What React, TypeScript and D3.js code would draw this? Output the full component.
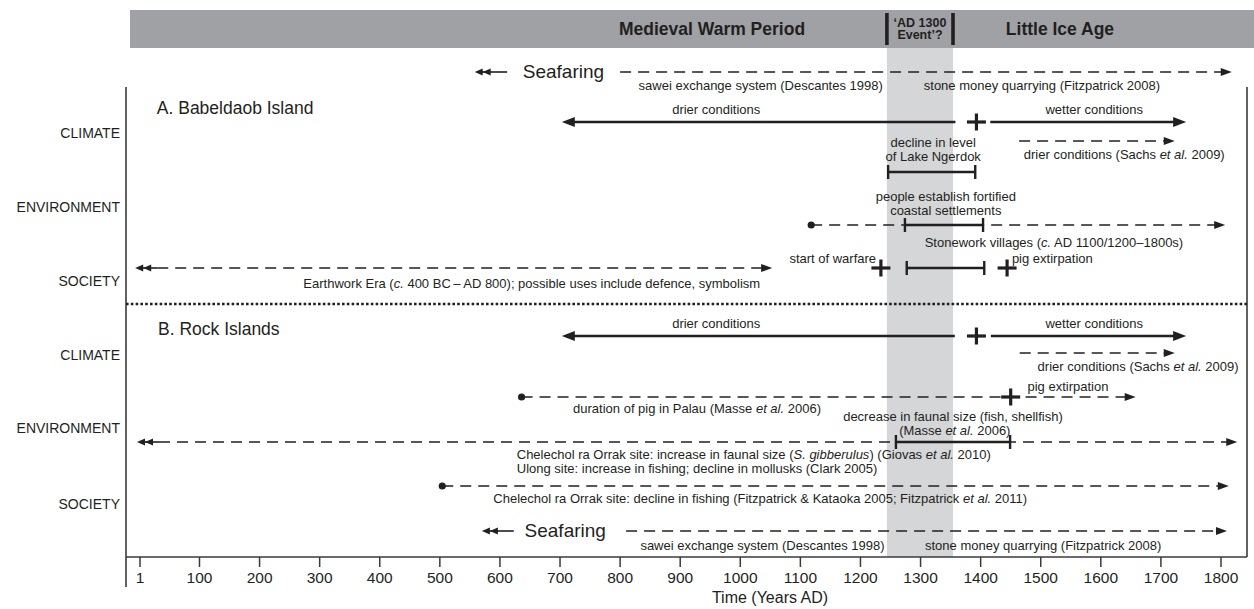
import React from "react";
import * as d3 from "d3";

// ---- chart values (years AD) ----
const tickYears = [1, 100, 200, 300, 400, 500, 600, 700, 800, 900, 1000, 1100, 1200, 1300, 1400, 1500, 1600, 1700, 1800];
const eventSpan = [1244, 1354]; // 'AD 1300 Event'?
const eventLines = ["\u2018AD 1300", "Event\u2019?"];

const eraLabels = [
  { text: "Medieval Warm Period", at: 953 },
  { text: "Little Ice Age", at: 1532 },
];

const rowLabels = [
  { text: "CLIMATE", lane: "aClimateRow" },
  { text: "ENVIRONMENT", lane: "aEnvRow" },
  { text: "SOCIETY", lane: "aSocRow" },
  { text: "CLIMATE", lane: "bClimateRow" },
  { text: "ENVIRONMENT", lane: "bEnvRow" },
  { text: "SOCIETY", lane: "bSocRow" },
];

const sectionTitles = [
  { text: "A. Babeldaob Island", at: 29, lane: "aTitle" },
  { text: "B. Rock Islands", at: 31, lane: "bTitle" },
];

const seafaring = [
  { at: 638, lane: "seaTop", leadFrom: 612, leadTo: 558, from: 800, to: 1818 },
  { at: 641, lane: "seaBot", leadFrom: 623, leadTo: 570, from: 810, to: 1810 },
];

const solidArrows = [
  { from: 1358, to: 703, lane: "aClimate" },
  { from: 1416, to: 1742, lane: "aClimate" },
  { from: 1357, to: 703, lane: "bClimate" },
  { from: 1417, to: 1742, lane: "bClimate" },
];

// start: "none" | "dot" | "double"
const dashedArrows = [
  { from: 1464, to: 1723, lane: "aSachs", start: "none" },
  { from: 1118, to: 1807, lane: "aEnv", start: "dot" },
  { from: -7, to: 1053, lane: "aSoc", start: "double" },
  { from: 1465, to: 1723, lane: "bSachs", start: "none" },
  { from: 636, to: 1658, lane: "bPig", start: "dot" },
  { from: -4, to: 1827, lane: "bEnv", start: "double" },
  { from: 504, to: 1813, lane: "bSoc", start: "dot" },
];

const spans = [
  { from: 1246, to: 1391, lane: "aLake" },
  { from: 1274, to: 1404, lane: "aEnv" },
  { from: 1277, to: 1406, lane: "aSoc" },
  { from: 1259, to: 1449, lane: "bEnv" },
];

const crosses = [
  { at: 1393, lane: "aClimate" },
  { at: 1234, lane: "aSoc" },
  { at: 1444, lane: "aSoc" },
  { at: 1393, lane: "bClimate" },
  { at: 1450, lane: "bPig" },
];

// *text* = italic
const notes = [
  { text: "sawei exchange system (Descantes 1998)", at: 1034, lane: "seaTopNote", anchor: "middle" },
  { text: "stone money quarrying (Fitzpatrick 2008)", at: 1502, lane: "seaTopNote", anchor: "middle" },
  { text: "drier conditions", at: 960, lane: "aClimateNote", anchor: "middle" },
  { text: "wetter conditions", at: 1589, lane: "aClimateNote", anchor: "middle" },
  { text: "drier conditions (Sachs *et al.* 2009)", at: 1639, lane: "aSachsNote", anchor: "middle" },
  { text: "decline in level", at: 1321, lane: "aLakeNote1", anchor: "middle" },
  { text: "of Lake Ngerdok", at: 1321, lane: "aLakeNote2", anchor: "middle" },
  { text: "people establish fortified", at: 1342, lane: "aFortNote1", anchor: "middle" },
  { text: "coastal settlements", at: 1342, lane: "aFortNote2", anchor: "middle" },
  { text: "Stonework villages (*c.* AD 1100/1200\u20131800s)", at: 1522, lane: "aStoneNote", anchor: "middle" },
  { text: "start of warfare", at: 1226, lane: "aWarNote", anchor: "end" },
  { text: "pig extirpation", at: 1452, lane: "aWarNote", anchor: "start" },
  { text: "Earthwork Era (*c.* 400 BC\u2009\u2013\u2009AD 800); possible uses include defence, symbolism", at: 653, lane: "aEarthNote", anchor: "middle" },
  { text: "drier conditions", at: 960, lane: "bClimateNote", anchor: "middle" },
  { text: "wetter conditions", at: 1589, lane: "bClimateNote", anchor: "middle" },
  { text: "drier conditions (Sachs *et al.* 2009)", at: 1662, lane: "bSachsNote", anchor: "middle" },
  { text: "pig extirpation", at: 1478, lane: "bPigNote", anchor: "start" },
  { text: "duration of pig in Palau (Masse *et al.* 2006)", at: 928, lane: "bPigDurNote", anchor: "middle" },
  { text: "decrease in faunal size (fish, shellfish)", at: 1354, lane: "bFaunaNote1", anchor: "middle" },
  { text: "(Masse *et al.* 2006)", at: 1357, lane: "bFaunaNote2", anchor: "middle" },
  { text: "Chelechol ra Orrak site: increase in faunal size (*S. gibberulus*) (Giovas *et al.* 2010)", at: 628, lane: "bChelNote1", anchor: "start" },
  { text: "Ulong site: increase in fishing; decline in mollusks (Clark 2005)", at: 628, lane: "bChelNote2", anchor: "start" },
  { text: "Chelechol ra Orrak site: decline in fishing (Fitzpatrick & Kataoka 2005; Fitzpatrick *et al.* 2011)", at: 589, lane: "bSocNote", anchor: "start" },
  { text: "sawei exchange system (Descantes 1998)", at: 1037, lane: "seaBotNote", anchor: "middle" },
  { text: "stone money quarrying (Fitzpatrick 2008)", at: 1504, lane: "seaBotNote", anchor: "middle" },
];

// ---- layout ----
const W = 1254;
const H = 609;
const FONT = "'Liberation Sans', Arial, Helvetica, sans-serif";
const INK = "#231f20";
const frame = { left: 126, right: 1247, top: 87, axis: 557, leftBottom: 587 };
const header = { x: 130, top: 10, bottom: 48 };

const laneY: Record<string, number> = {
  seaTop: 72, seaTopNote: 85,
  aTitle: 108, aClimateNote: 109, aClimate: 122, aClimateRow: 133,
  aSachs: 141, aLakeNote1: 142, aSachsNote: 154, aLakeNote2: 156, aLake: 172,
  aFortNote1: 196, aEnvRow: 207, aFortNote2: 210, aEnv: 225, aStoneNote: 242,
  aWarNote: 258, aSoc: 268, aSocRow: 281, aEarthNote: 283,
  divider: 304,
  bClimateNote: 323, bTitle: 329, bClimate: 336, bSachs: 353, bClimateRow: 355, bSachsNote: 366,
  bPigNote: 386, bPig: 397, bPigDurNote: 408, bFaunaNote1: 416, bEnvRow: 428, bFaunaNote2: 430,
  bEnv: 442, bChelNote1: 454, bChelNote2: 468, bSoc: 486, bSocNote: 498, bSocRow: 504,
  seaBot: 531, seaBotNote: 545,
};

const x = d3.scaleLinear().domain([1, 1800]).range([140, 1221]);
const y = (lane: string) => laneY[lane];

function head(tipX: number, cy: number, dir: number, len: number, half: number) {
  const p = d3.path();
  p.moveTo(tipX, cy);
  p.lineTo(tipX - dir * len, cy - half);
  p.lineTo(tipX - dir * len, cy + half);
  p.closePath();
  return p.toString();
}

function RichText({ text, ...rest }: any) {
  const parts = text.split("*");
  return (
    <text {...rest}>
      {parts.map((s: string, i: number) => (
        <tspan key={i} fontStyle={i % 2 ? "italic" : "normal"}>{s}</tspan>
      ))}
    </text>
  );
}

export default function App() {
  const [e0, e1] = eventSpan.map(x);
  return (
    <svg width={W} height={H} style={{ position: "absolute", left: 0, top: 0, background: "#fff" }}
      fontFamily={FONT} fill={INK}>
      {/* shaded event band */}
      <rect x={e0} y={header.bottom} width={e1 - e0} height={frame.axis - header.bottom} fill="#d5d6d8" />

      {/* header bar */}
      <rect x={header.x} y={header.top} width={W - header.x} height={header.bottom - header.top} fill="#a0a1a4" />
      {eventSpan.map((v, i) => (
        <rect key={i} x={x(v) - 1.8} y={header.top + 3} width={3.6} height={header.bottom - header.top - 6} fill={INK} />
      ))}
      {eraLabels.map((d, i) => (
        <text key={i} x={x(d.at)} y={(header.top + header.bottom) / 2} dy="0.36em" textAnchor="middle"
          fontWeight="bold" fontSize={17.5}>{d.text}</text>
      ))}
      {eventLines.map((t, i) => (
        <text key={i} x={(e0 + e1) / 2} y={header.top + 13 + i * 12} dy="0.35em" textAnchor="middle"
          fontWeight="bold" fontSize={12.5}>{t}</text>
      ))}

      {/* frame */}
      <g stroke="#3a3a3a" strokeWidth={1.6} fill="none">
        <line x1={frame.left} x2={frame.left} y1={frame.top} y2={frame.leftBottom} />
        <line x1={frame.right} x2={frame.right} y1={frame.top} y2={frame.axis} />
        <line x1={frame.left} x2={frame.right} y1={frame.axis} y2={frame.axis} />
      </g>
      <line x1={frame.left} x2={frame.right} y1={y("divider")} y2={y("divider")} stroke={INK}
        strokeWidth={2.6} strokeDasharray="2.6 2.2" />

      {/* axis */}
      {tickYears.map((t) => (
        <g key={t} transform={`translate(${x(t)},${frame.axis})`}>
          <line y1={0} y2={10} stroke="#3a3a3a" strokeWidth={1.5} />
          <text y={21} dy="0.35em" textAnchor="middle" fontSize={15.5}>{t}</text>
        </g>
      ))}
      <text x={770} y={597} dy="0.35em" textAnchor="middle" fontSize={16}>Time (Years AD)</text>

      {/* row labels and titles */}
      {rowLabels.map((d, i) => (
        <text key={i} x={120} y={y(d.lane)} dy="0.35em" textAnchor="end" fontSize={14}>{d.text}</text>
      ))}
      {sectionTitles.map((d, i) => (
        <text key={i} x={x(d.at)} y={y(d.lane)} dy="0.35em" fontSize={17.5}>{d.text}</text>
      ))}

      {/* seafaring */}
      {seafaring.map((d, i) => {
        const cy = y(d.lane);
        const tip = x(d.leadTo);
        const end = x(d.to);
        return (
          <g key={i}>
            <line x1={x(d.leadFrom)} x2={tip + 6} y1={cy} y2={cy} stroke={INK} strokeWidth={1.6} />
            <path d={head(tip, cy, -1, 8, 3.5)} />
            <path d={head(tip + 8, cy, -1, 8, 3.5)} />
            <text x={x(d.at)} y={cy} dy="0.33em" fontSize={19}>Seafaring</text>
            <line x1={x(d.from)} x2={end - 9} y1={cy} y2={cy} stroke={INK} strokeWidth={1.5} strokeDasharray="11 7" />
            <path d={head(end, cy, 1, 11, 4)} />
          </g>
        );
      })}

      {/* solid climate arrows */}
      {solidArrows.map((d, i) => {
        const cy = y(d.lane);
        const dir = d.to > d.from ? 1 : -1;
        const tip = x(d.to);
        return (
          <g key={i}>
            <line x1={x(d.from)} x2={tip - dir * 10} y1={cy} y2={cy} stroke={INK} strokeWidth={2.6} />
            <path d={head(tip, cy, dir, 13, 5)} />
          </g>
        );
      })}

      {/* dashed arrows */}
      {dashedArrows.map((d, i) => {
        const cy = y(d.lane);
        const x0 = x(d.from);
        const x1 = x(d.to);
        const startX = d.start === "double" ? x0 + 22 : x0;
        return (
          <g key={i}>
            {d.start === "double" && (
              <>
                <line x1={x0 + 6} x2={x0 + 22} y1={cy} y2={cy} stroke={INK} strokeWidth={1.6} />
                <path d={head(x0, cy, -1, 8, 3.5)} />
                <path d={head(x0 + 8, cy, -1, 8, 3.5)} />
              </>
            )}
            {d.start === "dot" && <circle cx={x0} cy={cy} r={3.6} />}
            <line x1={startX} x2={x1 - 9} y1={cy} y2={cy} stroke={INK} strokeWidth={1.6} strokeDasharray="11 7" />
            <path d={head(x1, cy, 1, 11, 4)} />
          </g>
        );
      })}

      {/* measured spans */}
      {spans.map((d, i) => {
        const cy = y(d.lane);
        return (
          <g key={i} stroke={INK} strokeWidth={2.4}>
            <line x1={x(d.from)} x2={x(d.to)} y1={cy} y2={cy} />
            <line x1={x(d.from)} x2={x(d.from)} y1={cy - 7} y2={cy + 7} />
            <line x1={x(d.to)} x2={x(d.to)} y1={cy - 7} y2={cy + 7} />
          </g>
        );
      })}

      {/* crosses */}
      {crosses.map((d, i) => {
        const cx = x(d.at);
        const cy = y(d.lane);
        return (
          <g key={i} stroke={INK} strokeWidth={3.2}>
            <line x1={cx - 9.5} x2={cx + 9.5} y1={cy} y2={cy} />
            <line x1={cx} x2={cx} y1={cy - 8.5} y2={cy + 8.5} />
          </g>
        );
      })}

      {/* notes */}
      {notes.map((d, i) => (
        <RichText key={i} text={d.text} x={x(d.at)} y={y(d.lane)} dy="0.35em" textAnchor={d.anchor} fontSize={13} />
      ))}
    </svg>
  );
}
